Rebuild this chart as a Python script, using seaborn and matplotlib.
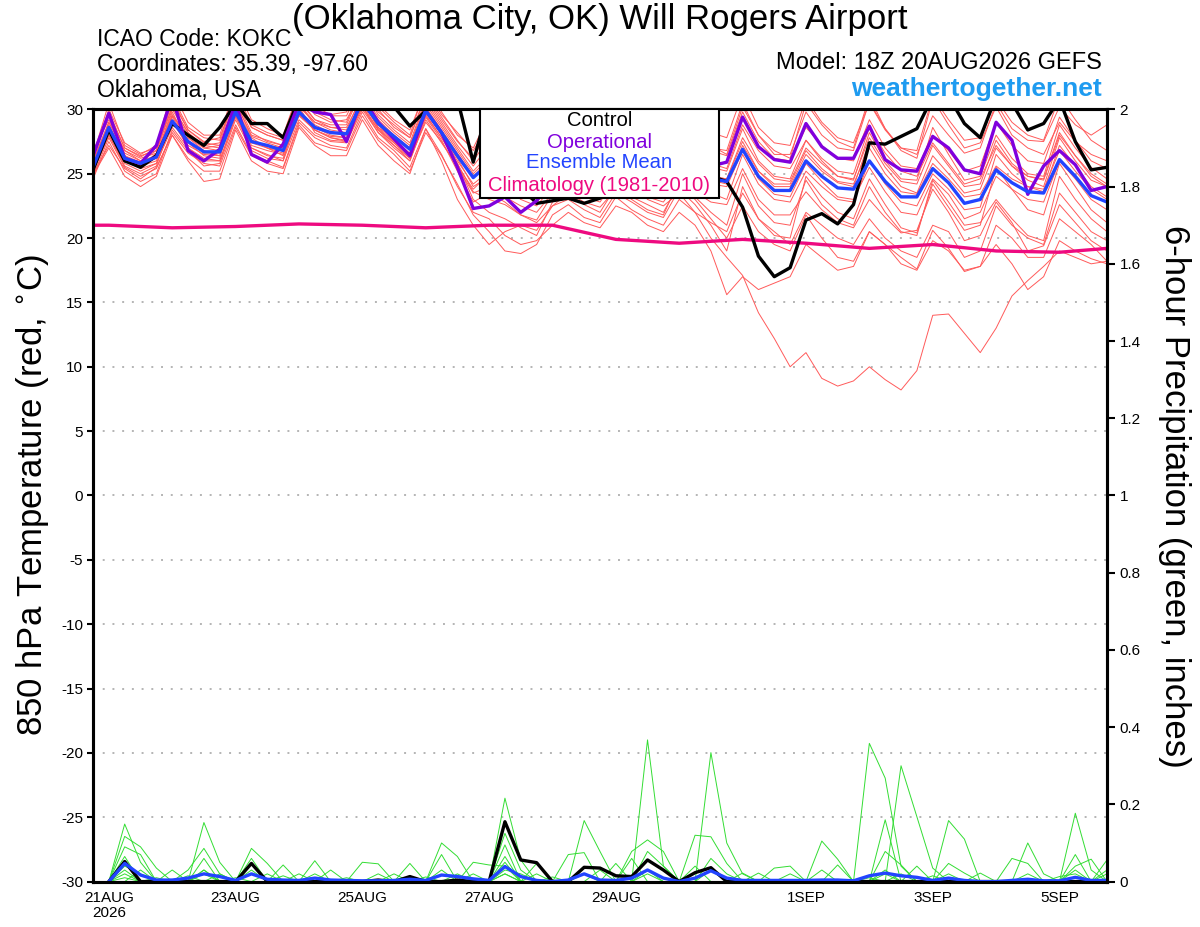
import numpy as np
import pandas as pd
import matplotlib
matplotlib.use("Agg")
import matplotlib.pyplot as plt
from matplotlib.patches import Rectangle
import seaborn as sns

sns.set_style("white")
plt.rcParams['font.family'] = ['Liberation Sans', 'DejaVu Sans']
plt.rcParams['text.color'] = 'black'
plt.rcParams['xtick.color'] = 'black'
plt.rcParams['ytick.color'] = 'black'

# 6-hourly values, first value = 18Z 20AUG, then 4 per day (00Z 06Z 12Z 18Z) from 21AUG to 5SEP
ctrl_temp = [25.3,
             28.4, 26.0, 25.5, 26.4, 28.9, 28.0, 27.2, 28.6, 30.5, 28.9, 28.9, 27.8,
             30.8, 31.0, 31.0, 31.0, 31.5, 31.0, 30.2, 28.7, 29.9, 31.2, 30.8, 25.9, 30.5, 27.0, 24.0, 22.7,
             22.9, 23.1, 22.7, 23.1, 24.0, 25.5, 26.5, 25.8, 27.0, 26.0, 24.8, 24.4, 22.4, 18.6, 17.0, 17.7,
             21.4, 21.9, 21.1, 22.6, 27.4, 27.3, 27.9, 28.5, 31.0, 31.0, 28.9, 27.8, 31.0, 30.5, 28.4, 28.9,
             30.8, 27.5, 25.3, 25.5]
oper_temp = [26.4,
             29.7, 26.2, 25.8, 27.2, 31.0, 26.8, 26.0, 26.9, 30.5, 26.5, 25.9, 27.3,
             30.5, 29.8, 29.6, 27.5, 31.0, 29.0, 27.7, 26.4, 29.9, 28.2, 25.5, 22.3, 22.5, 23.2, 22.0, 22.9,
             24.5, 25.5, 25.0, 24.8, 26.5, 26.0, 25.2, 25.0, 26.8, 26.0, 25.6, 25.9, 29.4, 27.1, 26.1, 25.9,
             28.9, 27.1, 26.2, 26.2, 28.7, 26.1, 25.3, 25.2, 27.9, 27.0, 25.3, 25.0, 29.0, 27.6, 23.4, 25.6,
             26.8, 25.7, 23.7, 24.0]
mean_temp = [25.5,
             28.6, 26.2, 25.8, 26.3, 29.1, 27.5, 26.7, 26.7, 29.8, 27.5, 27.2, 26.8,
             29.8, 28.6, 28.2, 28.1, 30.6, 28.9, 27.9, 26.9, 29.9, 28.2, 26.4, 24.7, 25.8, 25.0, 24.2, 23.6,
             24.5, 25.5, 24.8, 24.5, 25.8, 25.2, 24.7, 24.4, 25.8, 25.0, 24.6, 24.4, 26.9, 24.8, 23.7, 23.7,
             26.0, 24.8, 23.9, 23.8, 26.0, 24.4, 23.2, 23.2, 25.4, 24.3, 22.7, 23.0, 25.3, 24.3, 23.6, 23.5,
             26.1, 24.8, 23.3, 22.8]

clim_days = [-0.25, 0, 1, 2, 3, 4, 5, 6, 7, 8, 9, 10, 11, 12, 13, 14, 15, 15.75]
clim_temp = [21.0, 21.0, 20.8, 20.9, 21.1, 21.0, 20.8, 21.0, 21.0, 19.9, 19.6, 19.9, 19.6, 19.2,
             19.5, 19.0, 18.9, 19.2]

m01 = [26.0, 29.8, 27.0, 26.3, 27.0, 30.8, 28.4, 27.5, 27.8, 31.0, 28.6, 28.0, 27.6,
       31.2, 29.6, 29.0, 29.2, 31.5, 30.0, 28.6, 27.8, 31.0, 29.2, 27.5, 26.2, 28.5, 27.2, 26.0, 25.8,
       28.0, 27.8, 26.5, 26.2, 29.0, 27.5, 26.5, 26.0, 29.5, 28.0, 27.0, 26.8, 30.5, 28.0, 26.5, 26.5,
       29.8, 28.0, 27.0, 26.8, 30.6, 28.5, 27.0, 26.5, 29.5, 28.0, 26.6, 27.0, 30.5, 28.5, 27.6, 27.5,
       30.2, 28.8, 28.0, 28.8]
m02 = [25.2, 28.0, 25.8, 25.2, 25.8, 28.6, 27.0, 26.2, 26.0, 29.5, 27.0, 26.5, 26.0,
       30.2, 28.2, 27.6, 27.5, 30.8, 28.5, 27.4, 26.2, 29.0, 27.5, 25.5, 23.5, 24.0, 23.2, 22.5, 22.0,
       23.5, 24.5, 23.6, 23.2, 25.0, 24.6, 23.8, 23.4, 26.0, 25.0, 24.5, 24.2, 27.2, 25.2, 24.0, 24.0,
       26.5, 25.2, 24.3, 24.0, 27.5, 25.5, 24.0, 23.5, 26.4, 25.0, 23.5, 23.8, 27.0, 25.6, 24.5, 24.0,
       27.8, 26.0, 24.5, 24.0]
m03 = [24.8, 27.8, 25.5, 24.8, 25.4, 28.2, 26.6, 25.8, 25.6, 28.8, 26.5, 26.0, 25.5,
       29.0, 27.8, 27.2, 27.0, 29.8, 27.8, 26.8, 25.5, 28.5, 26.5, 24.0, 22.0, 21.5, 20.2, 19.5, 19.8,
       21.0, 22.0, 21.2, 20.8, 22.5, 22.0, 21.0, 20.5, 22.0, 21.0, 19.0, 15.6, 17.0, 16.0, 16.5, 17.0,
       19.5, 18.5, 17.5, 17.8, 20.5, 19.5, 18.0, 17.5, 19.8, 19.0, 17.5, 17.8, 21.0, 20.0, 18.5, 18.5,
       21.5, 20.5, 19.5, 18.2]
m04 = [25.6, 28.4, 26.4, 25.6, 26.6, 29.5, 27.8, 26.8, 26.4, 30.2, 27.8, 27.0, 26.4,
       29.5, 28.4, 27.8, 27.5, 30.2, 28.2, 27.2, 26.0, 29.2, 27.4, 25.6, 23.8, 25.0, 24.2, 23.4, 22.8,
       24.2, 25.2, 24.2, 23.6, 25.5, 24.5, 23.0, 22.5, 23.5, 22.0, 20.0, 18.5, 17.1, 14.2, 12.2, 10.0,
       11.1, 9.1, 8.5, 8.9, 10.0, 9.0, 8.2, 9.7, 14.0, 14.1, 12.6, 11.1, 13.0, 15.5, 16.7, 17.8,
       19.0, 18.5, 18.0, 18.2]
m05 = [26.4, 30.5, 27.2, 26.5, 27.2, 31.5, 29.0, 28.0, 28.0, 31.8, 29.2, 28.5, 28.0,
       31.5, 30.0, 29.5, 29.5, 32.0, 30.2, 29.0, 28.0, 31.8, 29.8, 28.0, 27.0, 29.5, 28.0, 27.2, 26.5,
       29.0, 29.0, 27.8, 27.2, 30.2, 28.6, 27.5, 27.0, 30.0, 28.5, 27.2, 26.5, 30.2, 28.0, 26.8, 26.2,
       30.5, 28.8, 27.5, 27.0, 31.0, 28.5, 26.8, 26.2, 30.8, 28.8, 27.0, 27.4, 30.2, 28.0, 27.0, 26.5,
       29.0, 27.5, 26.5, 26.0]
m06 = [25.0, 27.2, 25.4, 24.6, 25.5, 28.0, 26.2, 25.2, 25.2, 28.6, 26.4, 25.8, 25.4,
       28.8, 27.4, 27.0, 26.8, 29.5, 27.6, 26.5, 25.2, 28.2, 26.4, 24.2, 21.8, 20.5, 19.0, 18.8, 19.5,
       21.8, 22.6, 21.6, 21.2, 23.2, 22.2, 21.5, 21.0, 23.0, 22.0, 21.2, 20.5, 23.5, 21.5, 20.5, 19.5,
       22.0, 21.0, 20.0, 19.5, 21.5, 20.0, 19.0, 18.5, 21.0, 20.5, 18.5, 19.0, 22.5, 21.0, 20.0, 19.5,
       23.5, 22.0, 20.5, 19.8]
m07 = [26.8, 29.2, 26.8, 26.0, 26.4, 30.0, 28.0, 27.2, 27.0, 30.5, 28.0, 27.6, 27.2,
       30.8, 29.2, 28.6, 28.4, 31.2, 29.4, 28.2, 27.2, 30.6, 28.8, 27.0, 25.2, 26.5, 25.8, 25.0, 24.2,
       25.5, 26.5, 25.6, 25.0, 26.8, 26.0, 25.2, 25.0, 27.0, 26.0, 25.5, 25.2, 28.5, 26.0, 24.8, 24.6,
       27.6, 26.0, 24.8, 24.5, 28.2, 26.0, 24.6, 24.5, 28.6, 26.5, 24.5, 24.8, 28.0, 26.2, 25.0, 24.8,
       28.8, 27.0, 25.5, 24.6]
m08 = [25.9, 29.0, 26.6, 26.0, 26.8, 30.2, 28.2, 27.0, 27.2, 30.0, 27.6, 27.2, 27.0,
       30.4, 28.8, 28.2, 28.0, 30.8, 28.6, 27.5, 26.5, 29.5, 27.8, 25.8, 23.0, 22.0, 21.5, 20.8, 20.2,
       22.8, 23.5, 22.6, 22.0, 24.0, 23.0, 22.2, 21.8, 24.5, 23.2, 22.0, 21.0, 25.0, 22.5, 21.2, 21.0,
       24.5, 22.6, 21.5, 21.0, 24.0, 22.0, 20.5, 20.2, 24.5, 22.8, 21.0, 21.2, 23.0, 21.5, 20.2, 19.8,
       24.8, 23.0, 21.5, 20.5]
m09 = [25.3, 28.3, 26.0, 25.4, 25.8, 29.0, 27.2, 26.5, 26.4, 29.6, 27.2, 26.8, 26.5,
       29.6, 28.4, 27.9, 27.8, 30.4, 28.8, 27.6, 26.6, 30.2, 28.4, 26.6, 24.8, 26.0, 25.4, 24.5, 23.8,
       24.8, 25.8, 25.0, 24.8, 26.2, 25.6, 25.0, 24.6, 26.2, 25.4, 24.8, 24.6, 27.5, 25.2, 24.2, 24.2,
       26.8, 25.4, 24.4, 24.2, 27.0, 25.0, 23.6, 23.4, 25.8, 24.6, 23.2, 23.4, 25.6, 24.6, 24.0, 23.8,
       26.8, 25.2, 23.8, 23.0]
m10 = [24.6, 27.5, 25.2, 24.4, 25.0, 28.4, 26.8, 25.6, 25.8, 29.2, 26.8, 26.2, 26.0,
       29.2, 28.0, 27.5, 27.4, 30.0, 28.2, 27.0, 26.0, 29.4, 27.6, 25.2, 22.8, 23.5, 22.8, 21.8, 21.2,
       22.5, 23.5, 22.8, 22.4, 23.8, 23.2, 22.6, 22.0, 24.2, 23.0, 21.5, 20.0, 22.5, 20.5, 19.5, 19.0,
       21.8, 20.0, 18.5, 18.2, 20.5, 19.5, 18.5, 17.6, 20.6, 19.2, 17.4, 17.8, 19.5, 18.0, 16.0, 17.0,
       19.8, 19.0, 18.4, 18.0]
m11 = [26.2, 30.0, 27.4, 26.6, 27.0, 31.0, 28.6, 27.8, 27.6, 31.5, 28.8, 28.2, 27.8,
       31.0, 29.8, 29.2, 29.0, 31.8, 29.8, 28.8, 27.8, 31.2, 29.4, 27.6, 26.0, 27.8, 27.0, 26.2, 25.5,
       27.2, 28.0, 27.0, 26.6, 28.2, 27.5, 26.8, 26.5, 28.5, 27.5, 26.8, 26.4, 29.8, 27.5, 26.2, 26.0,
       28.6, 27.2, 26.2, 26.0, 29.2, 27.0, 25.6, 25.4, 28.0, 26.8, 25.2, 25.6, 29.0, 27.2, 26.0, 25.8,
       29.4, 27.6, 26.0, 25.4]
m12 = [25.7, 28.8, 26.4, 25.9, 26.4, 29.8, 27.4, 26.4, 26.2, 30.6, 27.9, 27.4, 27.0,
       30.2, 29.0, 28.6, 28.6, 31.0, 29.2, 28.0, 27.0, 30.0, 28.0, 26.2, 24.0, 24.8, 24.0, 23.0, 22.5,
       24.0, 25.0, 24.2, 23.6, 25.2, 24.8, 24.0, 23.6, 25.5, 24.5, 23.5, 23.0, 26.5, 24.2, 23.0, 22.8,
       25.2, 24.0, 23.0, 22.8, 26.0, 24.2, 22.8, 22.5, 25.0, 23.8, 22.2, 22.4, 26.5, 25.0, 24.0, 23.6,
       27.2, 25.6, 24.0, 23.2]
m13 = [25.4, 28.6, 26.2, 25.6, 26.2, 29.4, 27.6, 26.6, 26.6, 29.8, 27.4, 27.0, 26.8,
       30.0, 28.6, 28.0, 27.8, 30.2, 28.4, 27.4, 26.4, 29.8, 28.0, 26.0, 24.2, 25.2, 24.6, 23.8, 23.2,
       24.5, 25.4, 24.6, 24.0, 25.6, 25.0, 24.2, 23.8, 25.6, 24.8, 24.2, 24.0, 26.8, 24.6, 23.4, 23.2,
       25.8, 24.4, 23.2, 23.0, 25.5, 23.6, 22.0, 21.8, 24.6, 23.4, 21.5, 22.0, 24.8, 23.8, 23.0, 22.8,
       26.0, 24.6, 23.0, 22.2]
m14 = [26.6, 29.6, 27.0, 26.4, 26.8, 30.2, 28.2, 27.2, 27.4, 31.2, 28.6, 28.0, 27.6,
       31.6, 30.2, 29.6, 29.8, 32.2, 30.4, 29.2, 28.4, 31.5, 29.6, 28.2, 26.8, 28.8, 27.8, 26.8, 26.2,
       28.6, 29.2, 28.2, 27.8, 29.6, 28.8, 28.0, 27.6, 30.4, 29.0, 28.2, 27.8, 31.2, 28.6, 27.4, 27.2,
       30.8, 29.0, 27.8, 27.4, 30.5, 28.4, 27.0, 26.8, 31.0, 29.2, 27.6, 27.8, 30.8, 29.0, 28.0, 27.6,
       31.0, 29.2, 27.6, 26.8]
m15 = [24.9, 27.0, 24.8, 24.0, 24.8, 28.0, 26.0, 24.4, 24.6, 28.4, 26.0, 25.2, 25.0,
       28.6, 27.2, 26.4, 26.4, 29.2, 27.2, 26.0, 25.0, 28.5, 26.0, 23.0, 21.0, 19.5, 20.5, 21.0, 20.6,
       22.5, 23.0, 22.2, 21.6, 23.5, 22.8, 22.0, 21.6, 23.8, 22.6, 21.0, 19.0, 24.0, 21.5, 20.2, 20.0,
       24.8, 23.2, 22.0, 21.5, 24.6, 22.6, 20.8, 20.4, 24.2, 22.4, 20.6, 21.0, 25.5, 23.8, 22.2, 21.8,
       25.8, 24.0, 22.2, 21.2]
m16 = [26.0, 29.0, 26.8, 26.2, 26.6, 30.6, 28.4, 27.4, 27.2, 30.8, 28.2, 27.5, 27.2,
       30.6, 29.2, 28.8, 28.8, 31.6, 29.6, 28.4, 27.4, 30.8, 29.0, 27.2, 25.6, 27.2, 26.4, 25.4, 24.8,
       26.2, 27.2, 26.2, 25.8, 27.6, 26.8, 26.0, 25.6, 27.2, 26.4, 25.8, 25.4, 28.8, 26.8, 25.6, 25.4,
       27.6, 26.2, 25.2, 25.0, 28.6, 26.6, 25.2, 24.8, 27.4, 25.8, 24.2, 24.6, 27.2, 25.6, 24.8, 24.5,
       28.0, 26.4, 25.0, 24.2]
m17 = [25.1, 28.0, 25.6, 25.0, 25.6, 29.2, 27.0, 26.0, 26.0, 29.4, 27.0, 26.4, 26.2,
       29.6, 28.4, 27.8, 27.6, 30.4, 28.4, 27.2, 26.2, 29.6, 27.8, 25.8, 23.6, 23.0, 22.6, 21.8, 21.4,
       23.4, 24.2, 23.2, 22.8, 24.6, 24.0, 23.2, 22.8, 24.6, 23.6, 22.8, 22.6, 25.4, 23.0, 21.8, 21.8,
       23.6, 22.2, 21.2, 20.8, 23.0, 21.6, 20.4, 20.6, 23.8, 22.0, 19.8, 20.2, 22.8, 21.2, 19.0, 19.4,
       22.6, 21.2, 19.8, 19.0]
m18 = [25.6, 28.5, 26.2, 25.6, 26.0, 29.6, 27.8, 27.0, 26.8, 30.0, 27.6, 27.0, 26.6,
       30.4, 29.0, 28.4, 28.2, 30.6, 28.6, 27.8, 27.0, 30.4, 28.6, 26.8, 25.0, 26.2, 25.2, 24.4, 23.8,
       25.2, 26.0, 25.2, 24.8, 26.4, 25.8, 25.0, 24.8, 26.6, 25.6, 24.8, 24.6, 27.8, 25.8, 24.6, 24.4,
       27.0, 25.8, 24.8, 24.6, 27.8, 25.8, 24.4, 24.2, 27.2, 25.6, 24.0, 24.2, 27.6, 25.8, 24.8, 24.6,
       28.2, 26.4, 24.8, 24.0]
temp_members = [m01, m02, m03, m04, m05, m06, m07, m08, m09, m10, m11, m12, m13, m14, m15, m16, m17, m18]

# 6-hour precipitation (inches), first value = 00Z 21AUG, 4 per day to 5SEP
ctrl_precip = [0, .052, 0, 0, 0, 0, 0, 0, 0, .047, 0, 0, 0, 0, 0, 0,
               0, .004, 0, .013, 0, 0, .004, 0, 0, .155, .056, .049, 0, 0, .037, .035,
               .015, .013, .056, .03, 0, .023, .036, 0, 0, 0, 0, 0, 0, 0, 0, 0,
               0, 0, 0, 0, 0, 0, 0, 0, 0, 0, 0, 0, 0, 0, 0, 0]
mean_precip = [0, .047, .017, .004, .004, .009, .02, .013, .003, .02, .006, .004, .003, .009, .004, .003,
               .002, .002, .003, .006, .003, .017, .013, .007, .003, .039, .013, .003, 0, .004, .02, .004,
               .003, .009, .03, .009, 0, .009, .028, .009, .003, .003, .003, .003, .003, .004, .004, .002,
               .015, .022, .015, .011, .003, .009, .003, 0, 0, .003, .006, .002, .002, .011, .003, .003]

p01 = [0, .149, .05, 0, 0, 0, .03, 0, 0, 0, 0, 0, 0, 0, 0, 0,
       0, 0, 0, 0, 0, 0, 0, 0, 0, .216, .056, 0, 0, 0, 0, 0,
       0, 0, .367, .04, 0, 0, 0, 0, 0, 0, 0, 0, 0, 0, 0, 0,
       .358, .268, .04, 0, 0, 0, 0, 0, 0, 0, 0, 0, 0, .07, 0, .02]
p02 = [0, .117, .09, .035, 0, 0, .153, .05, 0, 0, 0, 0, 0, 0, 0, 0,
       0, 0, 0, 0, 0, .1, .065, 0, 0, .125, .03, 0, 0, 0, 0, 0,
       0, 0, 0, 0, 0, 0, .334, .1, .02, 0, 0, 0, 0, 0, 0, 0,
       0, 0, .3, .168, .035, 0, 0, 0, 0, 0, 0, 0, 0, 0, 0, 0]
p03 = [0, .09, .07, 0, .03, 0, 0, 0, 0, .086, .047, 0, 0, .054, 0, 0,
       0, 0, 0, 0, 0, 0, 0, 0, 0, .095, 0, .047, 0, 0, .158, .078,
       0, 0, 0, 0, 0, 0, 0, 0, 0, 0, 0, 0, 0, 0, 0, 0,
       0, .16, 0, 0, 0, .158, .11, 0, 0, 0, 0, 0, 0, .177, .03, 0]
p04 = [0, .065, 0, 0, 0, .03, .086, .02, 0, .06, 0, .043, 0, 0, 0, 0,
       .05, .046, 0, 0, 0, 0, 0, 0, 0, .065, 0, 0, 0, .07, .075, 0,
       0, 0, 0, 0, 0, .12, .116, .047, 0, 0, 0, 0, 0, .105, .058, 0,
       0, 0, 0, 0, 0, 0, 0, 0, 0, 0, .1, .02, 0, 0, 0, 0]
p05 = [0, .04, .02, 0, 0, 0, .06, 0, 0, 0, 0, 0, 0, 0, .03, 0,
       0, 0, 0, .047, 0, .07, 0, .05, .043, .04, 0, 0, 0, 0, 0, 0,
       0, .078, .108, .078, 0, 0, 0, 0, 0, 0, .035, .04, 0, 0, 0, 0,
       0, .078, .043, 0, 0, 0, 0, 0, 0, .06, .047, 0, 0, 0, 0, .056]
p06 = [0, .02, 0, .01, 0, 0, 0, .02, 0, 0, .02, 0, 0, .02, 0, 0,
       0, 0, .02, 0, 0, 0, .02, 0, 0, .03, .02, 0, 0, 0, 0, 0,
       .047, 0, .078, .04, 0, 0, .06, .02, 0, .022, 0, 0, 0, 0, .043, 0,
       0, 0, 0, .04, 0, .047, .022, 0, 0, 0, 0, 0, 0, .04, .058, 0]
p07 = [0, .03, 0, 0, 0, .015, 0, 0, .01, 0, 0, 0, .02, 0, 0, .01,
       0, 0, 0, 0, .012, 0, 0, .02, 0, .02, 0, 0, .012, 0, 0, .03,
       0, 0, .03, 0, 0, 0, .03, 0, 0, 0, 0, .02, 0, .03, 0, 0,
       0, .03, 0, 0, .015, 0, 0, .022, 0, 0, 0, 0, .013, .02, 0, 0]
p08 = [0, 0, .03, 0, 0, 0, .03, 0, 0, .03, 0, .015, 0, 0, 0, 0,
       0, .02, 0, 0, 0, .03, 0, 0, 0, .05, 0, .02, 0, 0, 0, 0,
       0, .06, 0, 0, 0, .04, 0, 0, .022, 0, 0, 0, 0, 0, 0, 0,
       0, .02, 0, 0, 0, .02, 0, 0, 0, 0, .02, 0, 0, 0, 0, .03]
p09 = [0, .01, 0, 0, 0, 0, .02, 0, 0, 0, 0, 0, 0, .01, 0, 0,
       0, 0, 0, 0, 0, 0, 0, 0, 0, .02, 0, 0, 0, 0, .02, 0,
       0, 0, .02, 0, 0, 0, 0, 0, 0, 0, 0, 0, 0, 0, 0, 0,
       .01, 0, .02, 0, 0, 0, 0, 0, 0, 0, 0, 0, 0, .03, 0, 0]
precip_members = [p01, p02, p03, p04, p05, p06, p07, p08, p09]

tick_days = [0, 2, 4, 6, 8, 11, 13, 15]
tick_names = ['21AUG\n2026', '23AUG', '25AUG', '27AUG', '29AUG', '1SEP', '3SEP', '5SEP']


def long_frame(members, start, col):
    parts = []
    for i, vals in enumerate(members):
        parts.append(pd.DataFrame({'t': start + 0.25 * np.arange(len(vals)), col: vals, 'member': i}))
    return pd.concat(parts, ignore_index=True)


temp_df = long_frame(temp_members, -0.25, 'temp')
precip_df = long_frame(precip_members, 0.0, 'precip')
t_temp = -0.25 + 0.25 * np.arange(len(mean_temp))
t_prec = 0.25 * np.arange(len(mean_precip))

fig = plt.figure(figsize=(12, 9.27), dpi=100)
ax = fig.add_axes([0.0775, 0.049, 0.845, 0.833])
ax2 = ax.twinx()

sns.lineplot(data=temp_df, x='t', y='temp', units='member', estimator=None, sort=False,
             color='#ff5a5a', lw=0.7, ax=ax, legend=False)
sns.lineplot(x=clim_days, y=clim_temp, color='#ee0a80', lw=2.4, ax=ax)
sns.lineplot(x=t_temp, y=ctrl_temp, color='black', lw=2.4, ax=ax)
sns.lineplot(x=t_temp, y=oper_temp, color='#8000dd', lw=2.4, ax=ax)
sns.lineplot(x=t_temp, y=mean_temp, color='#2244ff', lw=2.4, ax=ax)

sns.lineplot(data=precip_df, x='t', y='precip', units='member', estimator=None, sort=False,
             color='#33dd33', lw=0.7, ax=ax2, legend=False)
sns.lineplot(x=t_prec, y=ctrl_precip, color='black', lw=2.4, ax=ax2)
sns.lineplot(x=t_prec, y=mean_precip, color='#2244ff', lw=2.4, ax=ax2)

ax.set_xlim(-0.25, 15.75)
ax.set_ylim(-30, 30)
ax2.set_ylim(0, 2)
ax.set_yticks(range(-30, 31, 5))
ax.set_yticklabels([str(v) for v in range(-30, 31, 5)], fontsize=11)
rt = np.round(np.arange(0, 2.01, 0.2), 1)
ax2.set_yticks(rt)
ax2.set_yticklabels(['%g' % v for v in rt], fontsize=11)
ax.set_xticks(tick_days)
ax.set_xticklabels(tick_names, fontsize=11, linespacing=1.1)
ax.set_xlabel('')
ax.set_ylabel('')
ax2.set_ylabel('')
for gy in range(-25, 30, 5):
    ax.axhline(gy, color='#b4b4b4', lw=1.4, ls=(0, (1, 4)), zorder=0)
ax.tick_params(axis='both', direction='out', length=4, width=1.5, pad=3)
ax2.tick_params(axis='y', direction='out', length=6, width=1.5, pad=3)
for a in (ax, ax2):
    for sp in a.spines.values():
        sp.set_linewidth(2.2)
        sp.set_color('black')

fig.text(0.027, 0.466, '850 hPa Temperature (red, $^{\\circ}$C)', rotation=90,
         ha='center', va='center', fontsize=25)
fig.text(0.979, 0.464, '6-hour Precipitation (green, inches)', rotation=-90,
         ha='center', va='center', fontsize=25)

fig.text(0.5, 0.979, '(Oklahoma City, OK) Will Rogers Airport', ha='center', va='center', fontsize=25)
fig.text(0.081, 0.957, 'ICAO Code: KOKC', ha='left', va='center', fontsize=16.5)
fig.text(0.081, 0.930, 'Coordinates: 35.39, -97.60', ha='left', va='center', fontsize=16.5)
fig.text(0.081, 0.902, 'Oklahoma, USA', ha='left', va='center', fontsize=16.5)
fig.text(0.918, 0.932, 'Model: 18Z 20AUG2026 GEFS', ha='right', va='center', fontsize=17)
fig.text(0.918, 0.904, 'weathertogether.net', ha='right', va='center', fontsize=19,
         fontweight='bold', color='#1e9bf0')

# legend box
fig.patches.append(Rectangle((0.400, 0.7864), 0.199, 0.096, transform=fig.transFigure,
                             facecolor='white', edgecolor='black', lw=1.5, zorder=10))
leg_items = [('Control', 'black'), ('Operational', '#8000dd'),
             ('Ensemble Mean', '#2244ff'), ('Climatology (1981-2010)', '#ee0a80')]
leg_y = [0.8695, 0.8468, 0.8242, 0.8004]
for (lab, col), yy in zip(leg_items, leg_y):
    fig.text(0.4995, yy, lab, color=col, ha='center', va='center', fontsize=14.6, zorder=11)

fig.savefig('out.png', dpi=100)
